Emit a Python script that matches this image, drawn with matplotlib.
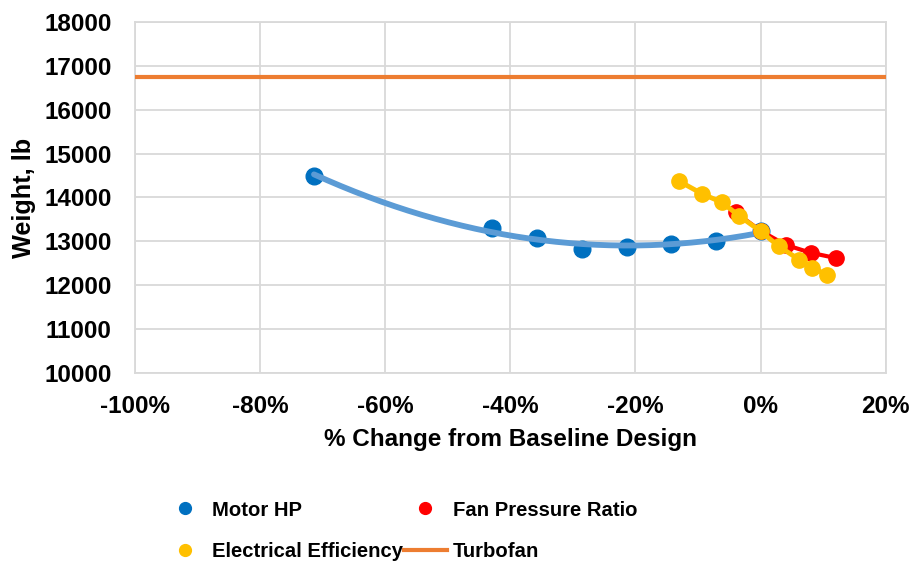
import numpy as np
import matplotlib
matplotlib.use('Agg')
from matplotlib import pyplot as plt
from matplotlib.lines import Line2D
from matplotlib.ticker import FuncFormatter

plt.rcParams['font.family'] = ['Liberation Sans', 'DejaVu Sans']
plt.rcParams['font.weight'] = 'bold'

# % change from baseline design and weight (lb)
motor_x = [-71.4, -42.9, -35.7, -28.6, -21.4, -14.3, -7.1, 0.0]
motor_w = [14500, 13310, 13080, 12830, 12870, 12940, 13010, 13240]

fan_x = [-4.0, 0.0, 4.0, 8.0, 12.0]
fan_w = [13660, 13240, 12920, 12740, 12620]

elec_x = [-13.0, -9.3, -6.2, -3.4, 0.0, 2.9, 6.2, 8.3, 10.7]
elec_w = [14370, 14080, 13890, 13580, 13230, 12890, 12580, 12400, 12230]

turbofan_w = 16750

blue = '#0070C0'
blue_trend = '#5B9BD5'
red = '#FF0000'
yellow = '#FFC000'
orange = '#ED7D31'

fig = plt.figure(figsize=(9.13, 5.65), dpi=100)
ax = fig.add_axes([0.148, 0.340, 0.822, 0.621])

# motor HP points + 2nd order trendline
ax.plot(motor_x, motor_w, 'o', color=blue, ms=12, zorder=3)
coef = np.polyfit(motor_x, motor_w, 2)
xx = np.linspace(min(motor_x), max(motor_x), 200)
ax.plot(xx, np.polyval(coef, xx), color=blue_trend, lw=4.2, zorder=4,
        solid_capstyle='round')

ax.plot(fan_x, fan_w, '-o', color=red, ms=11, lw=3, zorder=5)
ax.plot(elec_x, elec_w, '-o', color=yellow, ms=11, lw=3.5, zorder=6)
ax.axhline(turbofan_w, color=orange, lw=3, zorder=7)

ax.set_xlim(-100, 20)
ax.set_ylim(10000, 18000)
ax.set_xticks(np.arange(-100, 21, 20))
ax.set_yticks(np.arange(10000, 18001, 1000))
ax.xaxis.set_major_formatter(FuncFormatter(lambda v, p: '%d%%' % v))
ax.grid(True, color='#D9D9D9', lw=1.3)
ax.set_axisbelow(True)
for s in ax.spines.values():
    s.set_color('#D9D9D9')
    s.set_linewidth(1.3)
ax.tick_params(length=0, labelsize=17.5)
ax.tick_params(axis='x', pad=16)
ax.tick_params(axis='y', pad=17)
ax.set_xlabel('% Change from Baseline Design', fontsize=17.5, fontweight='bold', labelpad=7)
ax.set_ylabel('Weight, lb', fontsize=18.2, fontweight='bold', labelpad=6)

handles = [
    Line2D([], [], ls='none', marker='o', color=blue, ms=8.5),
    Line2D([], [], ls='none', marker='o', color=yellow, ms=8.5),
    Line2D([], [], ls='none', marker='o', color=red, ms=8.5),
    Line2D([], [], color=orange, lw=3),
]
labels = ['Motor HP', 'Electrical Efficiency', 'Fan Pressure Ratio', 'Turbofan']
fig.legend(handles, labels, ncol=2, loc='upper left', bbox_to_anchor=(0.168, 0.132),
           frameon=False, fontsize=14.6, handlelength=2.1, handletextpad=0.3,
           columnspacing=0.05, labelspacing=1.1, borderpad=0)

fig.savefig('out.png', dpi=100)
